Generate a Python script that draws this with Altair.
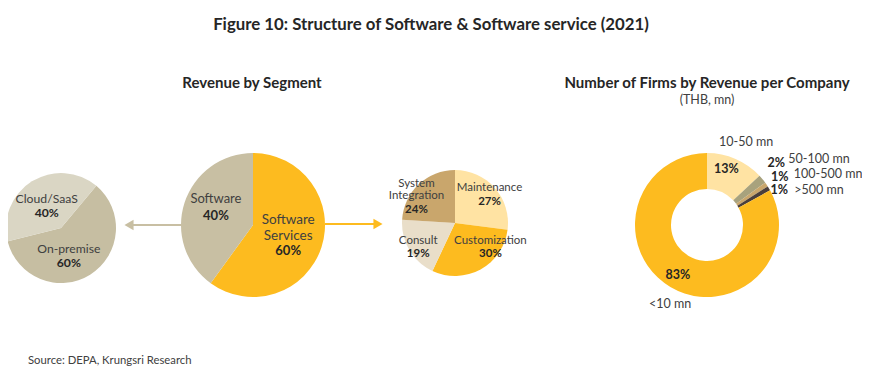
import math
import altair as alt
import pandas as pd

FONT = "Lato"

# ---------------- data ----------------
deploy_cats = ["On-premise", "Cloud/SaaS"]
deploy_vals = [60, 40]

segment_cats = ["Software Services", "Software"]
segment_vals = [60, 40]

service_cats = ["Maintenance", "Customization", "Consult", "System Integration"]
service_vals = [27, 30, 19, 24]

firm_cats = ["10-50 mn", "50-100 mn", "100-500 mn", ">500 mn", "<10 mn"]
firm_vals = [13, 2, 1, 1, 83]

all_cats = deploy_cats + segment_cats + service_cats + firm_cats
all_colors = ["#C6BEA2", "#DAD6C4",
              "#FDBB1F", "#C8BFA3",
              "#FFE3A3", "#FDBB1F", "#E9DEC9", "#C9A66C",
              "#FFE3A3", "#A8A27D", "#C9A66C", "#4B3F3B", "#FDBB1F"]

color = alt.Color("cat:N", scale=alt.Scale(domain=all_cats, range=all_colors), legend=None)


def frame(cats, vals):
    df = pd.DataFrame({"cat": cats, "value": vals})
    df["end"] = df["value"].cumsum()
    df["start"] = df["end"] - df["value"]
    df["mid"] = df["end"] - df["value"] / 2
    df["pct"] = df["value"].astype(str) + "%"
    return df


def theta_scale(offset_deg):
    o = math.radians(offset_deg)
    return alt.Scale(domain=[0, 100], range=[o, o + 2 * math.pi])


def pie(df, cx, cy, r_out, r_in, offset):
    sc = theta_scale(offset)
    return alt.Chart(df).mark_arc(outerRadius=r_out, innerRadius=r_in, stroke=None).encode(
        theta=alt.Theta("start:Q", scale=sc),
        theta2="end:Q",
        color=color,
        x=alt.value(cx), y=alt.value(cy),
    )


def label(df, cat, field, cx, cy, r, offset, dx=0, dy=0, bold=False, align="center", size=12, lh=None):
    sc = theta_scale(offset)
    kw = dict(radius=r, dx=dx, dy=dy, align=align, baseline="middle", font=FONT,
              fontSize=size, fontWeight="bold" if bold else "normal",
              color="#262626" if bold else "#404040")
    if lh:
        kw["lineBreak"] = "\n"
        kw["lineHeight"] = lh
    return alt.Chart(df).transform_filter(alt.datum.cat == cat).mark_text(**kw).encode(
        theta=alt.Theta("mid:Q", scale=sc),
        text=f"{field}:N",
        x=alt.value(cx), y=alt.value(cy),
    )


O = 8  # page margin
# ---- left pie: deployment ----
d1 = frame(deploy_cats, deploy_vals)
d1["name"] = d1["cat"]
c1 = (61 - O, 228 - O)
S1 = 12.2
p1 = alt.layer(
    pie(d1, *c1, 55, 0, 40),
    label(d1, "Cloud/SaaS", "name", *c1, 27, 40, dx=0, dy=-6, size=S1),
    label(d1, "Cloud/SaaS", "pct", *c1, 27, 40, dx=0, dy=8, bold=True, size=S1),
    label(d1, "On-premise", "name", *c1, 28, 40, dx=-7, dy=-3, size=S1),
    label(d1, "On-premise", "pct", *c1, 28, 40, dx=-7, dy=11, bold=True, size=S1),
)

# ---- middle pie: segment ----
d2 = frame(segment_cats, segment_vals)
d2["name"] = ["Software\nServices", "Software"]
c2 = (253 - O, 225 - O)
p2 = alt.layer(
    pie(d2, *c2, 72, 0, 0),
    label(d2, "Software", "name", *c2, 39, 0, dy=-14, size=13),
    label(d2, "Software", "pct", *c2, 39, 0, dy=3, bold=True, size=13),
    label(d2, "Software Services", "name", *c2, 37, 0, dy=-16, lh=15.5, size=13.5),
    label(d2, "Software Services", "pct", *c2, 37, 0, dy=15, bold=True, size=13),
)

# ---- right small pie: services ----
d3 = frame(service_cats, service_vals)
d3["name"] = ["Maintenance", "Customization", "Consult", "System\nIntegration"]
c3 = (455 - O, 223 - O)
S3 = 11.5
p3 = alt.layer(
    pie(d3, *c3, 53, 0, 0),
    label(d3, "Maintenance", "name", *c3, 30, 0, dx=12, dy=-15, size=S3),
    label(d3, "Maintenance", "pct", *c3, 30, 0, dx=12, dy=-1, bold=True, size=S3),
    label(d3, "Customization", "name", *c3, 30, 0, dx=21, dy=-8, size=S3),
    label(d3, "Customization", "pct", *c3, 30, 0, dx=21, dy=5, bold=True, size=S3),
    label(d3, "Consult", "name", *c3, 30, 0, dx=-11, dy=3, size=S3),
    label(d3, "Consult", "pct", *c3, 30, 0, dx=-11, dy=16, bold=True, size=S3),
    label(d3, "System Integration", "name", *c3, 30, 0, dx=-18, dy=-17, size=S3, lh=12),
    label(d3, "System Integration", "pct", *c3, 30, 0, dx=-18, dy=9, bold=True, size=S3),
)

# ---- donut: firms ----
d4 = frame(firm_cats, firm_vals)
d4["name"] = d4["cat"]
c4 = (707 - O, 225 - O)
S4 = 12.5
p4 = alt.layer(
    pie(d4, *c4, 72, 36, 0),
    label(d4, "10-50 mn", "pct", *c4, 54, 0, dx=-2, dy=-6, bold=True, size=S4),
    label(d4, "10-50 mn", "name", *c4, 86, 0, dx=5, dy=-4, size=S4),
    label(d4, "50-100 mn", "pct", *c4, 90, 0, dx=0, dy=-5, bold=True, size=S4),
    label(d4, "50-100 mn", "name", *c4, 90, 0, dx=12, dy=-9, align="left", size=S4),
    label(d4, "100-500 mn", "pct", *c4, 88, 0, dx=0, dy=1, bold=True, size=S4),
    label(d4, "100-500 mn", "name", *c4, 88, 0, dx=14, dy=-2, align="left", size=S4),
    label(d4, ">500 mn", "pct", *c4, 84, 0, dx=0, dy=8, bold=True, size=S4),
    label(d4, ">500 mn", "name", *c4, 84, 0, dx=15, dy=8, align="left", size=S4),
    label(d4, "<10 mn", "pct", *c4, 57, 0, dx=0, dy=1, bold=True, size=S4),
    label(d4, "<10 mn", "name", *c4, 92, 0, dx=10, dy=0, size=S4),
)

# ---- arrows ----
arrow_df = pd.DataFrame({"a": [0]})
left_line = alt.Chart(arrow_df).mark_rule(color="#C8BFA3", strokeWidth=2).encode(
    x=alt.value(183 - O), x2=alt.value(132 - O), y=alt.value(225 - O))
left_head = alt.Chart(arrow_df).mark_point(shape="triangle-left", filled=True, opacity=1,
                                           color="#C8BFA3", size=110).encode(
    x=alt.value(129 - O), y=alt.value(225 - O))
right_line = alt.Chart(arrow_df).mark_rule(color="#FDBB1F", strokeWidth=2).encode(
    x=alt.value(325 - O), x2=alt.value(375 - O), y=alt.value(224 - O))
right_head = alt.Chart(arrow_df).mark_point(shape="triangle-right", filled=True, opacity=1,
                                            color="#FDBB1F", size=110).encode(
    x=alt.value(378 - O), y=alt.value(224 - O))


def txt(s, x, y, size, bold=False, align="center", color="#262626"):
    return alt.Chart(pd.DataFrame({"t": [s]})).mark_text(
        font=FONT, fontSize=size, fontWeight="bold" if bold else "normal",
        align=align, baseline="middle", color=color).encode(
        text="t:N", x=alt.value(x - O), y=alt.value(y - O))


texts = alt.layer(
    txt("Figure 10: Structure of Software & Software service (2021)", 431, 25, 16.8, bold=True),
    txt("Revenue by Segment", 252, 83, 15, bold=True),
    txt("Number of Firms by Revenue per Company", 707, 83, 15, bold=True),
    txt("(THB, mn)", 707, 100, 12.5, color="#404040"),
    txt("Source: DEPA, Krungsri Research", 28, 361, 11.3, align="left", color="#404040"),
)

chart = alt.layer(p1, p2, p3, p4, left_line, left_head, right_line, right_head, texts).resolve_scale(
    theta="independent"
).properties(
    width=854, height=365, autosize=alt.AutoSizeParams(type="none"), padding=0
).configure_view(stroke=None)

chart.save("out.html", embed_options={"renderer": "svg", "actions": False})
